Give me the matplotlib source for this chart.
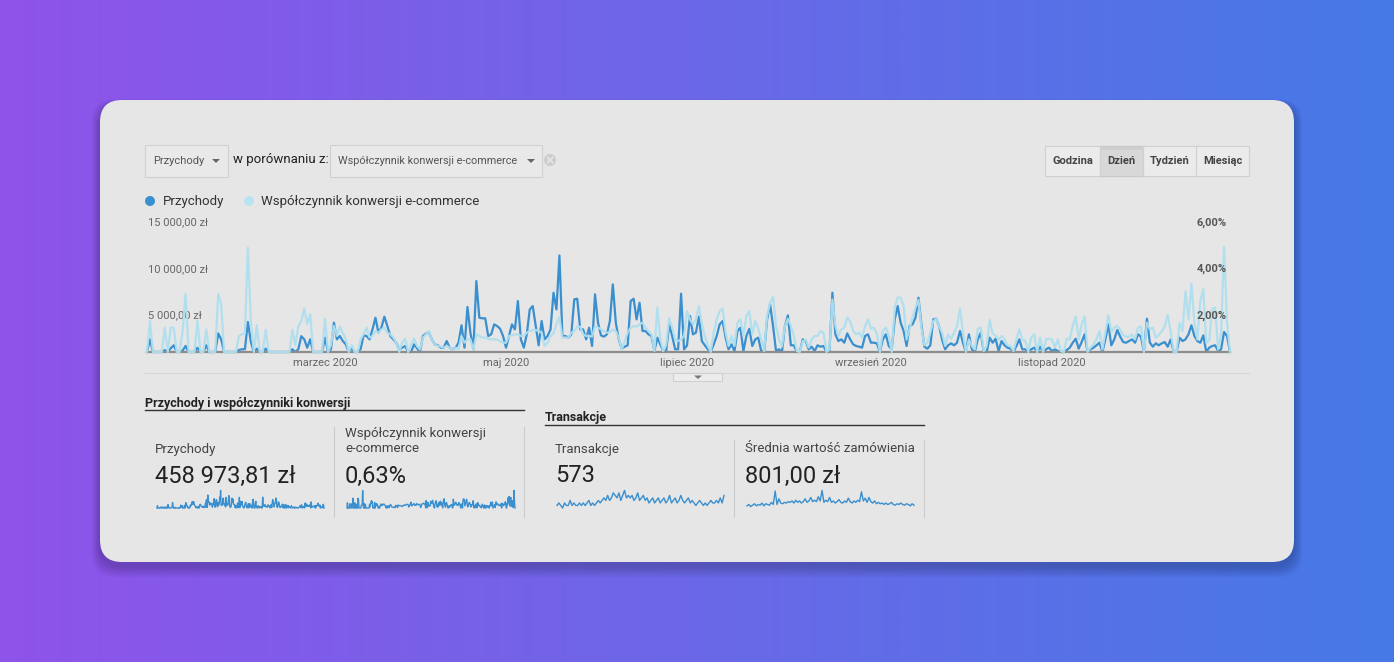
import numpy as np
import matplotlib
matplotlib.use('Agg')
import matplotlib.pyplot as plt
from matplotlib.patches import FancyBboxPatch, Rectangle, Polygon, Circle
from matplotlib.colors import LinearSegmentedColormap

plt.rcParams['font.family'] = ['Roboto', 'DejaVu Sans']

# ---------------- data ----------------
revenue = [
    0, 1360, 0, 0, 0, 0, 200, 0, 400, 720,
    0, 0, 150, 650, 0, 0, 0, 450, 0, 0,
    720, 0, 0, 0, 2000, 1360, 0, 0, 0, 0,
    0, 215, 290, 300, 3225, 1100, 0, 360, 0, 0,
    360, 0, 0, 0, 0, 0, 0, 0, 0, 290,
    0, 300, 1700, 1360, 465, 1360, 0, 0, 0, 0,
    1540, 0, 300, 3150, 1360, 1720, 1180, 820, 0, 360,
    0, 0, 320, 1790, 1720, 1360, 2440, 3690, 2080, 2620,
    3800, 2800, 1720, 1360, 1000, 200, 465, 645, 0, 0,
    820, 400, 0, 1720, 1970, 2150, 1360, 820, 720, 465,
    465, 1180, 465, 290, 465, 1000, 2870, 465, 4840, 2080,
    290, 7630, 3690, 3620, 3620, 1720, 1900, 2970, 2790, 2500,
    1720, 465, 1720, 2970, 2430, 5480, 1360, 465, 1900, 4580,
    4940, 2790, 720, 3330, 1360, 1720, 2430, 6370, 4580, 10380,
    1720, 1720, 1540, 1900, 5660, 5730, 2430, 2430, 1360, 2610,
    645, 6200, 3150, 1790, 1650, 1900, 3330, 7270, 3150, 1360,
    360, 570, 720, 5480, 5730, 3510, 5300, 2260, 2260, 1900,
    1720, 100, 1540, 820, 100, 200, 2970, 1720, 290, 290,
    6270, 290, 700, 3870, 1900, 2080, 3800, 1180, 720, 290,
    0, 820, 1720, 2970, 3330, 1540, 290, 820, 100, 2260,
    2610, 100, 1720, 2500, 645, 1360, 1540, 100, 0, 3510,
    5120, 2790, 100, 290, 0, 2790, 3940, 720, 720, 0,
    0, 1360, 1180, 290, 570, 100, 720, 570, 645, 0,
    0, 6380, 1900, 1180, 1360, 1000, 2000, 1360, 820, 645,
    570, 465, 1720, 1900, 1000, 1000, 930, 0, 1360, 1900,
    645, 290, 3510, 4940, 3150, 2260, 645, 2790, 2970, 3690,
    5840, 2970, 570, 360, 720, 3510, 3580, 2720, 1290, 290,
    720, 930, 720, 1000, 2260, 1000, 0, 1900, 290, 0,
    1360, 2080, 0, 0, 1540, 1000, 1430, 100, 1180, 720,
    465, 360, 0, 645, 1360, 290, 290, 0, 290, 465,
    0, 570, 0, 290, 465, 100, 290, 100, 0, 0,
    210, 465, 1000, 1430, 360, 1070, 1900, 0, 290, 465,
    720, 1000, 0, 1360, 2970, 720, 1360, 2370, 1650, 1070,
    1000, 1180, 1360, 1000, 1900, 1650, 0, 3580, 1000, 570,
    930, 720, 930, 1070, 570, 1360, 0, 0, 1540, 1180,
    1360, 1900, 2870, 1720, 1180, 1000, 1790, 0, 465, 645,
    720, 100, 290, 2150, 1720, 0,
]

conversion = [
    0, 1.33, 0, 0, 0, 0, 1.05, 0, 1.05, 1.05,
    0, 0, 0.9, 2.5, 0, 0, 0, 1.33, 0, 0,
    0.97, 0, 0, 0, 2.5, 2.05, 0, 0, 0, 0,
    0, 0.69, 0.76, 0.8, 4.48, 1.3, 0, 1.15, 0, 0,
    0.95, 0, 0, 0, 0, 0, 0, 0, 0, 0.95,
    0.3, 1.1, 1.33, 1.86, 1.2, 1.62, 0, 0, 0, 0,
    1.43, 0, 0.3, 1.12, 0.69, 1.09, 0.83, 0.55, 0, 0.3,
    0, 0, 0.55, 0.76, 1.05, 0.62, 0.69, 0.9, 0.83, 0.97,
    1.05, 0.83, 0.76, 0.62, 0.4, 0, 0.4, 0.57, 0, 0.3,
    0.57, 0.26, 0.11, 0.62, 0.76, 0.9, 0.54, 0.33, 0.26, 0.23,
    0.19, 0.26, 0.19, 0.11, 0.19, 0.11, 0.69, 0.4, 0.54, 0.54,
    0.11, 0.76, 0.69, 0.62, 0.62, 0.57, 0.54, 0.54, 0.54, 0.47,
    0.4, 0.4, 0.69, 0.72, 0.76, 0.76, 0.69, 0.69, 0.83, 0.9,
    0.95, 0.95, 0.9, 0.83, 0.26, 0.4, 0.69, 0.8, 1.2, 1.5,
    0.62, 0.62, 0.62, 0.83, 0.9, 1.09, 1.09, 0.76, 0.69, 0.69,
    0.66, 1.12, 1.05, 0.97, 0.9, 0.83, 0.86, 0.97, 0.9, 0.62,
    0.11, 0.47, 0.83, 1.05, 1.12, 1.09, 1.19, 1.26, 1.05, 0.9,
    0.76, 0.04, 1.9, 0.54, 0.04, 0.3, 1.45, 1.05, 0.54, 0.47,
    0.54, 0.69, 1.75, 1.4, 1.19, 1.4, 1.98, 1.19, 0.69, 0.26,
    0, 0.83, 1.4, 1.76, 1.86, 0.83, 0.26, 0.69, 0.26, 1.26,
    1.4, 0.69, 1.55, 1.76, 0.76, 1.33, 1.0, 0.54, 0.04, 1.55,
    2.12, 2.38, 1.12, 0.54, 0.23, 1.12, 1.43, 1.12, 0.69, 0.04,
    0, 0.47, 0.54, 0.19, 0.54, 0.69, 0.69, 0.9, 0.83, 0,
    0.11, 2.26, 1.12, 0.69, 0.97, 1.05, 1.48, 1.33, 0.9, 0.76,
    0.83, 0.62, 1.12, 1.4, 1.0, 1.05, 0.76, 0, 0.9, 1.05,
    0.69, 0, 1.9, 2.34, 2.34, 1.98, 0.54, 1.0, 1.48, 1.9,
    2.24, 1.05, 0.29, 0.4, 0.83, 1.33, 1.43, 1.09, 0.8, 0.26,
    0.76, 0.57, 0.83, 1.12, 1.86, 0.83, 0, 0.54, 0.26, 0.11,
    1.0, 1.05, 0.04, 0.26, 1.38, 0.8, 0.69, 0.54, 0.69, 0.54,
    0.29, 0.26, 0.04, 0.54, 0.97, 0.54, 0.47, 0, 0.62, 0.76,
    0, 0.62, 0, 0.54, 0.57, 0.54, 0.19, 0.54, 0.04, 0,
    0.57, 0.54, 1.12, 1.52, 0.54, 1.19, 1.52, 0, 0.19, 0.33,
    0.54, 0.9, 0.11, 0.83, 1.58, 0.86, 1.05, 1.12, 0.95, 0.72,
    0.66, 0.66, 0.76, 0.54, 1.05, 1.09, 0, 1.26, 0.97, 1.05,
    0.62, 0.72, 0.9, 1.09, 1.6, 0.9, 0, 0, 1.26, 0.9,
    2.62, 1.4, 2.95, 1.26, 0.54, 2.2, 2.7, 0.4, 0.5, 1.86,
    1.9, 0.11, 0.76, 4.53, 1.26, 0,
]

transactions = [1, 2, 1, 0, 2, 1, 1, 3, 1, 2, 1, 1, 2, 1, 2,
                1, 2, 3, 1, 2, 1, 2, 3,
                2, 3, 4, 3, 5, 3, 4, 6,
                5, 4, 6, 3, 5, 7, 4, 5,
                4, 5, 3, 4, 6, 3, 4, 5,
                3, 4, 2, 3, 4, 2, 3, 4,
                2, 3, 4, 2, 3, 5, 2, 3,
                4, 2, 3, 5, 3, 2, 3, 4,
                2, 3, 2, 1, 2, 3, 2,
                1, 2, 1, 2, 3, 2, 2,
                3, 2, 4, 2, 5]

avg_order = [300, 500, 200, 400, 600, 300, 500, 400, 700, 300, 600, 500, 400, 800, 500, 2400,
             500, 1300, 700, 600, 800, 700, 900, 800, 1000, 700, 1100,
             800, 1000, 700, 900, 1300, 800, 1000, 1500, 900, 1100, 900, 1600, 1000, 2500,
             800, 1100, 900, 1500, 800, 1000, 700, 900, 1200, 800, 700, 1000, 800, 1400,
             900, 700, 1000, 800, 1100, 900, 2300, 1000, 1400, 800, 1500, 900, 700, 1000,
             600, 800, 600, 700, 500, 700, 500, 600, 800, 500, 400, 600, 500, 700, 500,
             400, 600, 500, 300, 600, 400]

month_pos = [60, 121, 182, 244, 305]
month_labels = ['marzec 2020', 'maj 2020', 'lipiec 2020', 'wrzesień 2020', 'listopad 2020']
left_ticks = [5000, 10000, 15000]
left_labels = ['5 000,00 zł', '10 000,00 zł', '15 000,00 zł']
right_ticks = [2, 4, 6]
right_labels = ['2,00%', '4,00%', '6,00%']
buttons = ['Godzina', 'Dzień', 'Tydzień', 'Miesiąc']

DARK = '#3a8fcf'
LIGHT = '#aedfee'

# ---------------- figure ----------------
W, H = 1394, 662
fig = plt.figure(figsize=(W / 100, H / 100), dpi=100)
bg = fig.add_axes([0, 0, 1, 1])
bg.set_xlim(0, W)
bg.set_ylim(H, 0)
bg.axis('off')

grad = np.linspace(0, 1, 512).reshape(1, -1)
cmap = LinearSegmentedColormap.from_list('g', ['#8f53ea', '#6b68e8', '#4679e6'])
bg.imshow(grad, extent=[0, W, H, 0], aspect='auto', cmap=cmap, zorder=0)

# card shadow
for i in range(10):
    pad = 2 + i * 1.6
    bg.add_patch(FancyBboxPatch((100 - pad * 0.5, 104 - pad * 0.3), 1194 + pad, 462 + pad,
                                boxstyle="round,pad=0,rounding_size=24",
                                fc='black', ec='none', alpha=0.018, zorder=1))
bg.add_patch(FancyBboxPatch((100, 100), 1194, 462, boxstyle="round,pad=0,rounding_size=22",
                            fc='#e6e6e6', ec='none', zorder=2))


def T(x, y, s, size, color='#333333', weight='normal', ha='left', va='center'):
    bg.text(x, y, s, fontsize=size, color=color, fontweight=weight, ha=ha, va=va, zorder=5)


# dropdowns
bg.add_patch(Rectangle((145, 145), 83, 32, fc='#e9e9e9', ec='#d0d0d0', lw=0.8, zorder=3))
T(153, 161, 'Przychody', 8, '#555555')
bg.add_patch(Polygon([(212, 159), (220, 159), (216, 163)], fc='#666666', ec='none', zorder=4))
T(233, 160, 'w porównaniu z:', 9.5, '#222222')
bg.add_patch(Rectangle((330, 145), 212, 32, fc='#e9e9e9', ec='#d0d0d0', lw=0.8, zorder=3))
T(338, 161, 'Współczynnik konwersji e-commerce', 7.8, '#555555')
bg.add_patch(Polygon([(527, 159), (535, 159), (531, 163)], fc='#666666', ec='none', zorder=4))
bg.add_patch(Circle((550, 160), 6, fc='#cdcdcd', ec='none', zorder=3))
bg.plot([547.5, 552.5], [157.5, 162.5], color='#e6e6e6', lw=1.2, zorder=4)
bg.plot([547.5, 552.5], [162.5, 157.5], color='#e6e6e6', lw=1.2, zorder=4)

# buttons
bx = [1045, 1100, 1143, 1196, 1249]
bg.add_patch(Rectangle((1045, 146), 204, 30, fc='#ebebeb', ec='#d0d0d0', lw=0.8, zorder=3))
bg.add_patch(Rectangle((1100, 146), 43, 30, fc='#d8d8d8', ec='#c8c8c8', lw=0.8, zorder=3))
bg.add_patch(Rectangle((1101, 147), 41, 3, fc='#cfcfcf', ec='none', zorder=3))
for xs in bx[1:-1]:
    bg.plot([xs, xs], [146, 176], color='#d0d0d0', lw=0.8, zorder=4)
for i, b in enumerate(buttons):
    T((bx[i] + bx[i + 1]) / 2, 161, b, 8, '#444444', 'bold', ha='center')

# legend
bg.add_patch(Circle((150, 201), 5, fc=DARK, ec='none', zorder=4))
T(163, 201, 'Przychody', 9.5, '#333333')
bg.add_patch(Circle((249, 201), 5, fc='#b8e3f0', ec='none', zorder=4))
T(261, 201, 'Współczynnik konwersji e-commerce', 9.5, '#333333')

# line under chart + tab
bg.plot([145, 1249], [373, 373], color='#d6d6d6', lw=0.8, zorder=3)
bg.add_patch(Rectangle((673, 373), 49, 8, fc='#ececec', ec='#cfcfcf', lw=0.8, zorder=3))
bg.add_patch(Polygon([(694, 375.5), (702, 375.5), (698, 379)], fc='#777777', ec='none', zorder=4))

# section headers
T(145, 403, 'Przychody i współczynniki konwersji', 9, '#222222', 'bold')
bg.plot([145, 524], [410, 410], color='#333333', lw=1, zorder=4)
T(545, 418, 'Transakcje', 9, '#222222', 'bold')
bg.plot([545, 924], [425, 425], color='#333333', lw=1, zorder=4)
for xs, y0 in [(334, 427), (524, 427), (734, 440), (924, 440)]:
    bg.plot([xs, xs], [y0, 517], color='#cccccc', lw=0.8, zorder=4)

T(155, 449, 'Przychody', 9.5, '#444444')
T(155, 476, '458 973,81 zł', 17, '#222222')
T(345, 434, 'Współczynnik konwersji', 9.5, '#444444')
T(345, 449, 'e-commerce', 9.5, '#444444')
T(345, 476, '0,63%', 17, '#222222')
T(555, 449, 'Transakcje', 9.5, '#444444')
T(555, 476, '573', 17, '#222222')
T(745, 449, 'Średnia wartość zamówienia', 9.5, '#444444')
T(745, 476, '801,00 zł', 17, '#222222')

# ---------------- main chart ----------------
days = np.arange(len(revenue))
ax = fig.add_axes([147 / W, (H - 352) / H, 1083 / W, 139.5 / H])
ax.set_facecolor('none')
ax.set_frame_on(False)
ax.set_xlim(0, len(revenue) - 1)
ax.set_ylim(0, 15000)
ax.set_yticks([])
ax.set_xticks(month_pos)
ax.set_xticklabels(month_labels)
ax.tick_params(axis='x', length=0, pad=4.5, labelsize=8, labelcolor='#666666')
ax.plot(days, revenue, color=DARK, lw=1.6, zorder=2, clip_on=False, solid_joinstyle='round')
ax.axhline(0, color='#8c8c8c', lw=1.6, zorder=3, clip_on=False)
for v, lab in zip(left_ticks, left_labels):
    ax.annotate(lab, xy=(0, v), xycoords=('axes fraction', 'data'), xytext=(1, -7.2),
                textcoords='offset points', fontsize=8, color='#666666', va='center', ha='left',
                zorder=10)

ax2 = ax.twinx()
ax2.set_frame_on(False)
ax2.set_ylim(0, 6)
ax2.set_yticks([])
ax2.plot(days, conversion, color=LIGHT, lw=1.6, zorder=4, alpha=0.95, clip_on=False,
         solid_joinstyle='round')
for v, lab in zip(right_ticks, right_labels):
    ax2.annotate(lab, xy=(1, v), xycoords=('axes fraction', 'data'), xytext=(-2.2, -7.2),
                 textcoords='offset points', fontsize=8, color='#555555', fontweight='bold',
                 va='center', ha='right', zorder=10)
ax.set_zorder(6)
ax2.set_zorder(7)


# ---------------- sparklines ----------------
def spark(x0, x1, series):
    sa = fig.add_axes([x0 / W, (H - 508) / H, (x1 - x0) / W, 18 / H])
    sa.set_facecolor('none')
    sa.axis('off')
    sa.set_xlim(0, len(series) - 1)
    sa.set_ylim(0, max(series) * 1.02)
    sa.plot(np.arange(len(series)), series, color=DARK, lw=1.0, clip_on=False)


spark(157, 324, revenue)
spark(347, 515, conversion)
spark(557, 724, transactions)
spark(747, 914, avg_order)

fig.savefig('out.png', dpi=100)
